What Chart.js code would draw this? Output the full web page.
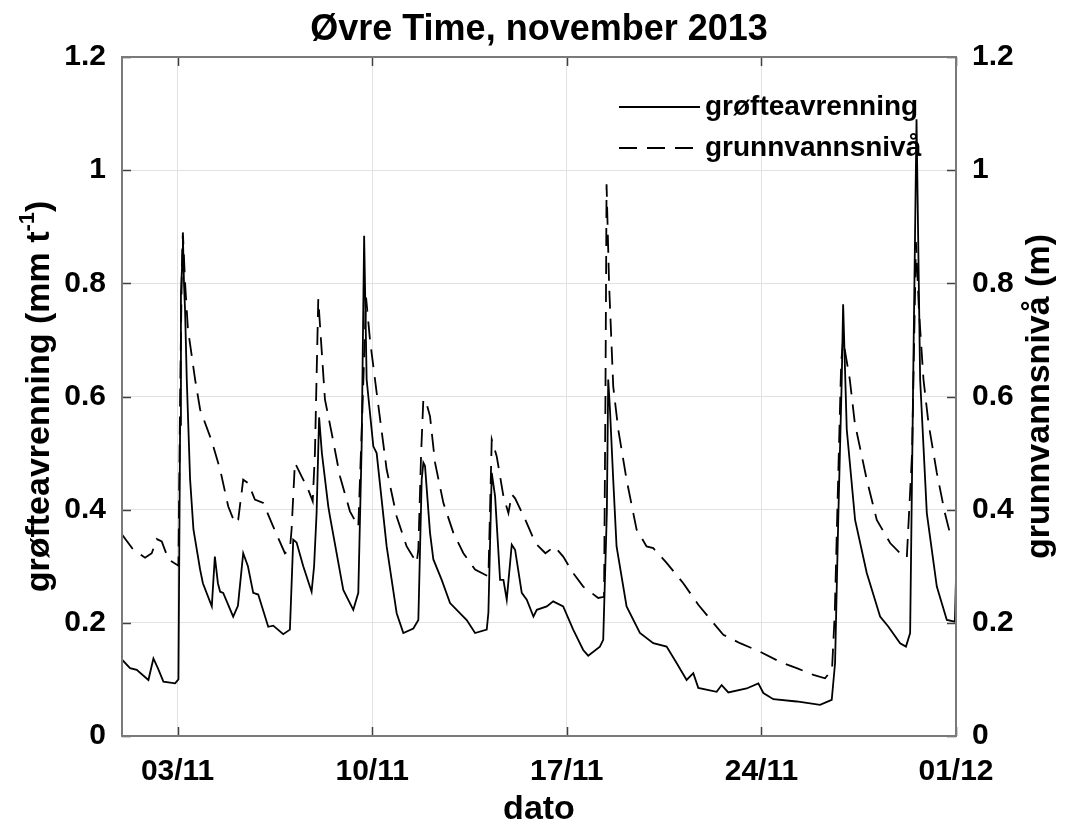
<!DOCTYPE html>
<html><head><meta charset="utf-8">
<script src="https://cdn.jsdelivr.net/npm/chart.js@4/dist/chart.umd.min.js"></script>
<style>html,body{margin:0;padding:0;background:#fff}</style>
</head><body>
<div style="width:1070px;height:830px"><canvas id="c" width="1070" height="830"></canvas></div>
<script>
const titleText = "Øvre Time, november 2013";
const xLabel = "dato";
const yLeftLabelMain = "grøfteavrenning (mm t";
const yLeftLabelSup = "-1";
const yLeftLabelEnd = ")";
const yRightLabel = "grunnvannsnivå (m)";
const seriesNames = ["grøfteavrenning", "grunnvannsnivå"];
const xTickDays = [2, 9, 16, 23, 30];
const xTickLabels = ["03/11", "10/11", "17/11", "24/11", "01/12"];

// days since 01/11 00:00
const solidDays = [0.0,0.29,0.53,0.95,1.13,1.29,1.49,1.91,2.03,2.09,2.12,2.16,2.19,2.23,2.27,2.33,2.45,2.57,2.81,2.91,3.23,3.34,3.45,3.53,3.64,4.00,4.17,4.36,4.53,4.72,4.90,5.26,5.44,5.80,6.04,6.16,6.28,6.52,6.82,6.91,7.00,7.09,7.19,7.42,7.48,7.96,8.32,8.50,8.62,8.71,8.80,9.04,9.16,9.52,9.88,10.12,10.48,10.66,10.78,10.84,10.90,11.08,11.20,11.50,11.80,12.40,12.70,13.12,13.18,13.30,13.42,13.60,13.72,13.84,14.02,14.14,14.38,14.56,14.80,14.92,15.28,15.51,15.87,16.23,16.59,16.77,17.19,17.31,17.44,17.49,17.55,17.67,17.79,18.15,18.63,19.11,19.59,19.95,20.31,20.55,20.73,21.39,21.57,21.81,22.47,22.89,23.07,23.43,24.27,25.11,25.53,25.65,25.77,25.89,25.94,26.07,26.37,26.79,27.27,27.57,27.99,28.20,28.35,28.46,28.58,28.71,28.95,29.31,29.67,29.96,30.0];
const solidVals = [0.135,0.120,0.117,0.099,0.137,0.120,0.096,0.093,0.100,0.550,0.780,0.830,0.884,0.800,0.750,0.630,0.453,0.365,0.294,0.270,0.229,0.317,0.270,0.255,0.253,0.211,0.230,0.323,0.300,0.253,0.250,0.193,0.195,0.180,0.188,0.347,0.342,0.300,0.255,0.300,0.394,0.563,0.500,0.406,0.388,0.258,0.223,0.253,0.512,0.884,0.630,0.512,0.500,0.335,0.217,0.182,0.190,0.205,0.453,0.483,0.477,0.359,0.312,0.276,0.235,0.205,0.182,0.188,0.218,0.465,0.424,0.276,0.276,0.241,0.338,0.329,0.253,0.241,0.211,0.223,0.229,0.238,0.229,0.188,0.152,0.142,0.158,0.170,0.394,0.630,0.580,0.453,0.335,0.229,0.182,0.164,0.158,0.129,0.099,0.111,0.085,0.078,0.090,0.077,0.084,0.093,0.076,0.065,0.061,0.055,0.064,0.129,0.394,0.630,0.763,0.542,0.382,0.288,0.211,0.193,0.164,0.158,0.182,0.630,1.090,0.630,0.394,0.264,0.205,0.202,0.280];

const dashDays = [0.0,0.41,0.83,1.07,1.25,1.43,1.67,2.03,2.09,2.16,2.19,2.27,2.37,2.63,2.81,3.23,3.53,3.82,4.06,4.18,4.36,4.54,4.78,5.08,5.44,5.86,6.04,6.10,6.22,6.46,6.70,6.86,6.94,7.06,7.30,7.54,7.84,8.20,8.50,8.63,8.78,8.92,9.16,9.52,9.88,10.24,10.60,10.66,10.76,10.84,10.94,11.08,11.26,11.56,11.92,12.28,12.70,13.18,13.30,13.48,13.72,13.90,14.02,14.14,14.51,14.87,15.23,15.56,15.87,16.23,16.59,17.13,17.34,17.39,17.43,17.52,17.67,17.85,18.15,18.51,18.87,19.11,19.59,20.19,20.73,21.27,21.63,22.23,22.95,23.67,24.27,24.87,25.29,25.54,25.64,25.76,25.87,25.94,26.18,26.36,26.79,27.15,27.63,27.99,28.23,28.42,28.56,28.67,28.83,29.01,29.31,29.60,29.78,30.0];
const dashVals = [0.356,0.329,0.315,0.323,0.348,0.344,0.312,0.301,0.600,0.850,0.890,0.800,0.720,0.630,0.577,0.521,0.471,0.406,0.376,0.382,0.453,0.447,0.418,0.412,0.370,0.323,0.330,0.365,0.483,0.459,0.435,0.415,0.500,0.772,0.595,0.536,0.459,0.397,0.370,0.550,0.775,0.700,0.607,0.471,0.388,0.335,0.306,0.330,0.500,0.595,0.590,0.565,0.483,0.412,0.359,0.323,0.294,0.282,0.524,0.494,0.424,0.394,0.427,0.420,0.382,0.341,0.323,0.335,0.317,0.288,0.264,0.244,0.246,0.600,0.975,0.800,0.618,0.542,0.453,0.365,0.335,0.332,0.306,0.270,0.232,0.200,0.179,0.164,0.149,0.131,0.120,0.108,0.102,0.117,0.218,0.453,0.660,0.700,0.630,0.553,0.453,0.382,0.341,0.323,0.315,0.500,0.873,0.750,0.630,0.553,0.465,0.394,0.359,0.360];

const FONT = "'Liberation Sans', Arial, sans-serif";
const fmtTick = v => String(parseFloat(Number(v).toFixed(1)));

const decorPlugin = {
  id: 'decor',
  afterDraw(chart) {
    const ctx = chart.ctx;
    const a = chart.chartArea;
    const xs = chart.scales.x, yl = chart.scales.yL, yr = chart.scales.yR;
    ctx.save();
    ctx.strokeStyle = '#404040';
    ctx.lineWidth = 1.5;
    const tl = 9;
    ctx.beginPath();
    xs.ticks.forEach(t => {
      const px = Math.round(xs.getPixelForValue(t.value)) + 0.5;
      ctx.moveTo(px, a.bottom); ctx.lineTo(px, a.bottom - tl);
      ctx.moveTo(px, a.top); ctx.lineTo(px, a.top + tl);
    });
    yl.ticks.forEach(t => {
      const py = Math.round(yl.getPixelForValue(t.value)) + 0.5;
      ctx.moveTo(a.left, py); ctx.lineTo(a.left + tl, py);
    });
    yr.ticks.forEach(t => {
      const py = Math.round(yr.getPixelForValue(t.value)) + 0.5;
      ctx.moveTo(a.right, py); ctx.lineTo(a.right - tl, py);
    });
    ctx.stroke();
    ctx.strokeStyle = '#7a7a7a';
    ctx.lineWidth = 2;
    ctx.strokeRect(a.left, a.top, a.right - a.left, a.bottom - a.top);

    ctx.fillStyle = '#000';
    ctx.textAlign = 'center';
    ctx.textBaseline = 'middle';
    ctx.font = 'bold 36px ' + FONT;
    ctx.fillText(titleText, (a.left + a.right) / 2, 30);
    ctx.font = 'bold 34px ' + FONT;
    ctx.fillText(xLabel, (a.left + a.right) / 2, 810);

    const cy = (a.top + a.bottom) / 2;
    ctx.save();
    ctx.translate(40, cy);
    ctx.rotate(-Math.PI / 2);
    ctx.font = 'bold 34px ' + FONT;
    const w1 = ctx.measureText(yLeftLabelMain).width;
    const w3 = ctx.measureText(yLeftLabelEnd).width;
    ctx.font = 'bold 22px ' + FONT;
    const w2 = ctx.measureText(yLeftLabelSup).width;
    const tot = w1 + w2 + w3;
    let x0 = -tot / 2;
    ctx.textAlign = 'left';
    ctx.font = 'bold 34px ' + FONT;
    ctx.fillText(yLeftLabelMain, x0, 0);
    ctx.font = 'bold 22px ' + FONT;
    ctx.fillText(yLeftLabelSup, x0 + w1, -12);
    ctx.font = 'bold 34px ' + FONT;
    ctx.fillText(yLeftLabelEnd, x0 + w1 + w2, 0);
    ctx.restore();

    ctx.save();
    ctx.translate(1040, cy);
    ctx.rotate(-Math.PI / 2);
    ctx.textAlign = 'center';
    ctx.font = 'bold 34px ' + FONT;
    ctx.fillText(yRightLabel, 0, 0);
    ctx.restore();

    const ds = chart.data.datasets;
    const legY = [107, 148];
    ds.forEach((d, i) => {
      ctx.save();
      ctx.strokeStyle = d.borderColor;
      ctx.lineWidth = d.borderWidth;
      ctx.setLineDash(d.borderDash || []);
      ctx.beginPath();
      ctx.moveTo(619, legY[i]); ctx.lineTo(700, legY[i]);
      ctx.stroke();
      ctx.restore();
      ctx.font = 'bold 28px ' + FONT;
      ctx.textAlign = 'left';
      ctx.textBaseline = 'middle';
      ctx.fillStyle = '#000';
      ctx.fillText(d.label, 705, legY[i]);
    });
    ctx.restore();
  }
};

const toPts = (xs, ys) => xs.map((x, i) => ({x: x, y: ys[i]}));

new Chart(document.getElementById('c'), {
  type: 'line',
  data: {
    datasets: [
      { label: seriesNames[0], data: toPts(solidDays, solidVals), yAxisID: 'yL',
        borderColor: '#000', borderWidth: 1.8, pointRadius: 0, tension: 0, fill: false },
      { label: seriesNames[1], data: toPts(dashDays, dashVals), yAxisID: 'yR',
        borderColor: '#000', borderWidth: 1.8, borderDash: [18, 10], pointRadius: 0, tension: 0, fill: false }
    ]
  },
  options: {
    responsive: false,
    animation: false,
    devicePixelRatio: 1,
    layout: { padding: { top: 57, left: 0, right: 0, bottom: 0 } },
    plugins: { legend: { display: false }, title: { display: false }, tooltip: { enabled: false } },
    scales: {
      x: {
        type: 'linear', min: 0, max: 30,
        afterBuildTicks: s => { s.ticks = xTickDays.map(v => ({ value: v })); },
        afterFit: s => { s.height = 94; },
        ticks: {
          callback: v => { const i = xTickDays.indexOf(v); return i >= 0 ? xTickLabels[i] : ''; },
          font: { family: FONT, size: 30, weight: 'bold' }, color: '#000', padding: 18, maxRotation: 0, autoSkip: false
        },
        grid: { color: '#e2e2e2', lineWidth: 1, drawTicks: false },
        border: { display: false }
      },
      yL: {
        type: 'linear', position: 'left', min: 0, max: 1.2,
        afterFit: s => { s.width = 122; },
        ticks: { stepSize: 0.2, callback: fmtTick, font: { family: FONT, size: 30, weight: 'bold' }, color: '#000', padding: 16 },
        grid: { color: '#e2e2e2', lineWidth: 1, drawTicks: false },
        border: { display: false }
      },
      yR: {
        type: 'linear', position: 'right', min: 0, max: 1.2,
        afterFit: s => { s.width = 114; },
        ticks: { stepSize: 0.2, callback: fmtTick, font: { family: FONT, size: 30, weight: 'bold' }, color: '#000', padding: 16 },
        grid: { display: false, drawTicks: false },
        border: { display: false }
      }
    }
  },
  plugins: [decorPlugin]
});
</script>
</body></html>
